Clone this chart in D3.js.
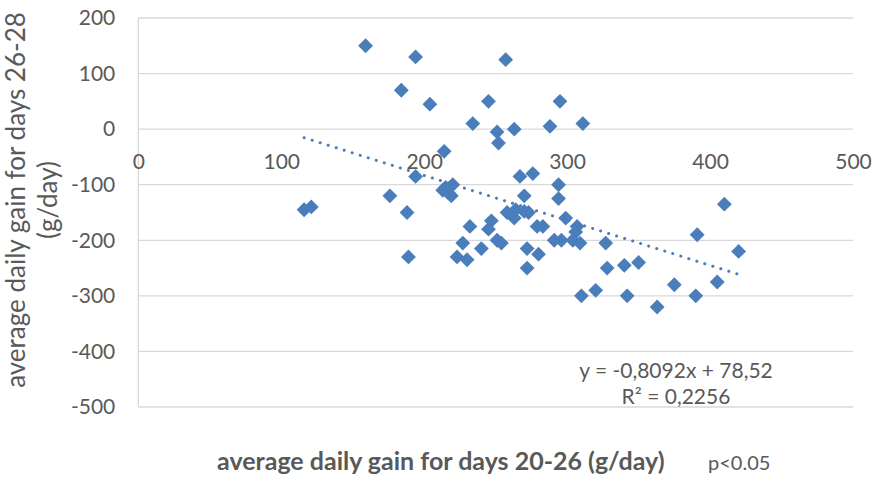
<!DOCTYPE html>
<html lang="en">
<head>
    <meta charset="UTF-8">
    <title>scatter</title>
    <script src="https://d3js.org/d3.v7.min.js"></script>
    <style>
        * {
            padding: 0;
            margin: 0;
        }

        body {
            background: #fff;
        }

        svg text {
            font-family: Lato, "Open Sans", sans-serif;
        }
    </style>
</head>
<body>
    <div class="context"></div>
    <script>
        // average daily gain days 20-26 (x) vs days 26-28 (y)
        const gain2026 = [116, 121, 159, 176, 184, 188, 189, 194, 194, 204,
            214, 215, 220, 217, 219, 213, 223, 227, 230, 232,
            234, 240, 245, 245, 247, 251, 251, 252, 254, 257,
            258, 263, 264, 263, 267, 270, 270, 272, 272, 273,
            276, 279, 283, 280, 288, 291, 294, 294, 295, 296,
            299, 304, 306, 307, 309, 310, 311, 320, 327, 328,
            340, 342, 350, 363, 375, 390, 391, 405, 410, 420];
        const gain2628 = [-145, -140, 150, -120, 70, -150, -230, 130, -85, 45,
            -40, -105, -100, -115, -120, -110, -230, -205, -235, -175,
            10, -215, 50, -180, -165, -5, -200, -25, -205, 125,
            -150, 0, -145, -160, -85, -148, -120, -215, -250, -150,
            -80, -175, -175, -225, 5, -200, -100, -125, 50, -200,
            -160, -200, -185, -175, -205, -300, 10, -290, -205, -250,
            -245, -300, -240, -320, -280, -300, -190, -275, -135, -220];
        const xTicks = [0, 100, 200, 300, 400, 500];
        const yTicks = [200, 100, 0, -100, -200, -300, -400, -500];
        const slope = -0.8092;
        const intercept = 78.52;
        const labels = {
            x: "average daily gain for days 20-26 (g/day)",
            p: "p<0.05",
            y1: "average daily gain for days 26-28",
            y2: "(g/day)",
            eq: "y = -0,8092x + 78,52",
            r2: "R² = 0,2256"
        };

        const W = 874, H = 478;
        const padL = 138.3, padR = 853, padT = 18, padB = 407;
        const blue = "#4a7ebb";
        const grey = "#595959";

        const svg = d3.select(".context").append("svg")
            .attr("width", W)
            .attr("height", H);

        const x = d3.scaleLinear().domain([0, 500]).range([padL, padR]);
        const y = d3.scaleLinear().domain([-500, 200]).range([padB, padT]);

        // gridlines
        svg.append("g")
            .selectAll("line")
            .data(yTicks)
            .enter().append("line")
            .attr("x1", padL)
            .attr("x2", padR)
            .attr("y1", d => y(d))
            .attr("y2", d => y(d))
            .attr("stroke", "#d9d9d9")
            .attr("stroke-width", 1.3);

        // vertical axis line
        svg.append("line")
            .attr("x1", padL).attr("x2", padL)
            .attr("y1", padT).attr("y2", padB)
            .attr("stroke", "#d9d9d9")
            .attr("stroke-width", 1.3);

        // plain hyphen minus like excel, not the unicode minus
        const fmt = d => String(d);

        // y tick labels
        const yAxis = d3.axisLeft(y).tickValues(yTicks).tickFormat(fmt).tickSize(0).tickPadding(23);
        const gy = svg.append("g").attr("transform", `translate(${padL},0)`).call(yAxis);
        gy.select(".domain").remove();
        gy.selectAll("text")
            .attr("fill", grey)
            .style("font-size", "21px");

        // x tick labels sit under the zero line
        const xAxis = d3.axisBottom(x).tickValues(xTicks).tickFormat(fmt).tickSize(0).tickPadding(25);
        const gx = svg.append("g").attr("transform", `translate(0,${y(0)})`).call(xAxis);
        gx.select(".domain").remove();
        gx.selectAll("text")
            .attr("fill", grey)
            .style("font-size", "21px");

        // trendline
        const xMin = d3.min(gain2026), xMax = d3.max(gain2026);
        svg.append("line")
            .attr("x1", x(xMin))
            .attr("y1", y(slope * xMin + intercept))
            .attr("x2", x(xMax))
            .attr("y2", y(slope * xMax + intercept))
            .attr("stroke", blue)
            .attr("stroke-width", 3)
            .attr("stroke-linecap", "round")
            .attr("stroke-dasharray", "0.1 8.3");

        // markers
        const pts = gain2026.map((d, i) => ({ x: d, y: gain2628[i] }));
        const diamond = d3.symbol().type(d3.symbolSquare).size(110);
        svg.append("g")
            .selectAll("path")
            .data(pts)
            .enter().append("path")
            .attr("d", diamond)
            .attr("transform", d => `translate(${x(d.x)},${y(d.y)}) rotate(45)`)
            .attr("fill", blue);

        // trendline label
        svg.append("text")
            .attr("x", 676).attr("y", 378)
            .attr("text-anchor", "middle")
            .attr("fill", grey)
            .style("font-size", "21px")
            .text(labels.eq);
        svg.append("text")
            .attr("x", 676).attr("y", 404)
            .attr("text-anchor", "middle")
            .attr("fill", grey)
            .style("font-size", "21px")
            .text(labels.r2);

        // axis titles
        svg.append("text")
            .attr("x", 217).attr("y", 470)
            .attr("fill", grey)
            .style("font-size", "25px")
            .style("font-weight", "bold")
            .text(labels.x);
        svg.append("text")
            .attr("x", 708).attr("y", 470)
            .attr("fill", grey)
            .style("font-size", "20px")
            .text(labels.p);

        // y title: size the font so the long line spans the same height as the original
        const yt = svg.append("text")
            .attr("transform", "translate(25,200) rotate(-90)")
            .attr("text-anchor", "middle")
            .attr("fill", grey)
            .style("font-size", "22px");
        const t1 = yt.append("tspan").attr("x", 0).attr("dy", 0).text(labels.y1);
        yt.append("tspan").attr("x", 0).attr("dy", 32).text(labels.y2);
        const len = t1.node().getComputedTextLength();
        if (len > 0) yt.style("font-size", (22 * 376 / len).toFixed(1) + "px");
    </script>
</body>
</html>
